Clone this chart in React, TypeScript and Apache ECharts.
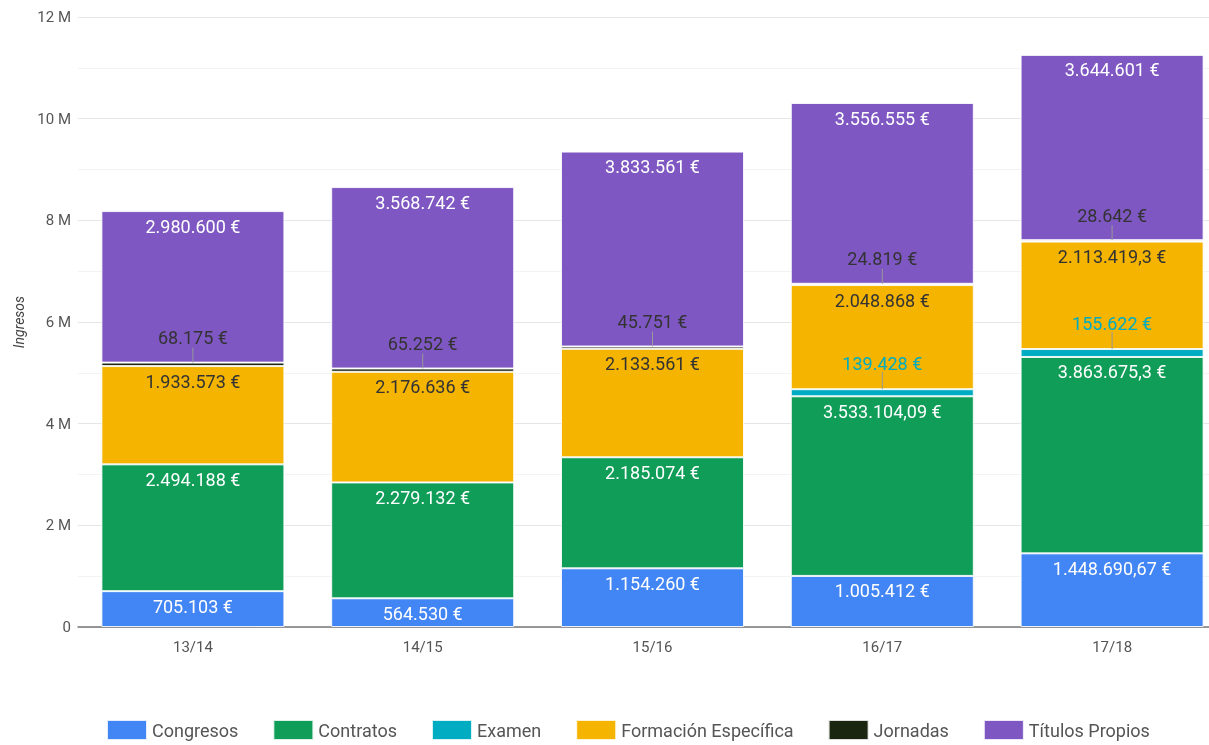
import React, { useEffect, useRef } from "react";
import * as echarts from "echarts";

const categories = ["13/14", "14/15", "15/16", "16/17", "17/18"];
const congresos = [705103, 564530, 1154260, 1005412, 1448690.67];
const contratos = [2494188, 2279132, 2185074, 3533104.09, 3863675.3];
const examen = [null, null, null, 139428, 155622];
const formacion = [1933573, 2176636, 2133561, 2048868, 2113419.3];
const jornadas = [68175, 65252, 45751, 24819, 28642];
const titulos = [2980600, 3568742, 3833561, 3556555, 3644601];

const seriesNames = ["Congresos", "Contratos", "Examen", "Formación Específica", "Jornadas", "Títulos Propios"];
const colors = ["#4285F4", "#0F9D58", "#00ACC1", "#F4B400", "#1B2610", "#7E57C2"];

const FONT = "Roboto";

function fmt(v: number | null): string {
  if (v === null || v === undefined || v === 0) return "";
  const s = String(v);
  const [ip, dp] = s.split(".");
  const grouped = ip.replace(/\B(?=(\d{3})+(?!\d))/g, ".");
  return (dp ? grouped + "," + dp : grouped) + " €";
}

export default function App() {
  const ref = useRef<HTMLDivElement>(null);
  useEffect(() => {
    if (!ref.current) return;
    const chart = echarts.init(ref.current, undefined, { renderer: "svg" });
    const all = [congresos, contratos, examen, formacion, jornadas, titulos];
    const topOf = (k: number, i: number) => {
      let s = 0;
      for (let j = 0; j <= k; j++) s += (all[j][i] as number) || 0;
      return s;
    };
    const leaderData: number[][] = [];
    categories.forEach((_, i) => {
      leaderData.push([i, topOf(4, i), 15]);
      if (examen[i]) leaderData.push([i, topOf(2, i), 17]);
    });

    const labelStyle = (color: string, pos: string, dist: number) => ({
      show: true,
      position: pos,
      distance: dist,
      color,
      fontFamily: FONT,
      fontSize: 18,
      formatter: (p: any) => fmt(p.value),
    });

    const mk = (k: number, label: any, z = 2) => ({
      name: seriesNames[k],
      type: "bar",
      stack: "total",
      barWidth: 183,
      z,
      data: all[k],
      itemStyle: { color: colors[k], borderColor: "rgba(255,255,255,0.85)", borderWidth: 1 },
      label,
      emphasis: { disabled: true },
    });

    chart.setOption({
      animation: false,
      color: colors,
      textStyle: { fontFamily: FONT },
      grid: { left: 78, width: 1149, top: 17, bottom: 118, containLabel: false },
      legend: {
        data: seriesNames,
        left: 101,
        top: 714,
        itemWidth: 40,
        itemHeight: 20,
        itemGap: 34,
        icon: "rect",
        textStyle: { fontFamily: FONT, fontSize: 18, color: "#555" },
      },
      xAxis: {
        type: "category",
        data: categories,
        axisTick: { show: false },
        axisLine: { lineStyle: { color: "#777", width: 1.5 } },
        axisLabel: { color: "#555", fontSize: 15, fontFamily: FONT, margin: 12 },
      },
      yAxis: {
        type: "value",
        min: 0,
        max: 12000000,
        interval: 2000000,
        name: "Ingresos",
        nameLocation: "middle",
        nameRotate: 90,
        nameGap: 52,
        nameTextStyle: { fontStyle: "italic", color: "#444", fontSize: 14, fontFamily: FONT },
        axisLine: { show: false },
        axisTick: { show: false },
        axisLabel: {
          color: "#555",
          fontSize: 15,
          fontFamily: FONT,
          margin: 7,
          formatter: (v: number) => (v === 0 ? "0" : v / 1000000 + " M"),
        },
        splitLine: { lineStyle: { color: "#e6e6e6" } },
        minorTick: { show: false, splitNumber: 2 },
        minorSplitLine: { show: true, lineStyle: { color: "#f3f3f3" } },
      },
      series: [
        mk(0, labelStyle("#fff", "insideTop", 6)),
        mk(1, labelStyle("#fff", "insideTop", 6)),
        mk(2, labelStyle("#00ACC1", "top", 17), 4),
        mk(3, labelStyle("#333", "insideTop", 6)),
        mk(4, labelStyle("#333", "top", 16), 4),
        mk(5, labelStyle("#fff", "insideTop", 6)),
        {
          type: "custom",
          name: "leader",
          z: 5,
          silent: true,
          data: leaderData,
          renderItem: (params: any, api: any) => {
            const p = api.coord([api.value(0), api.value(1)]);
            const len = api.value(2);
            return {
              type: "line",
              shape: { x1: p[0], y1: p[1], x2: p[0], y2: p[1] - len },
              style: { stroke: "#999", lineWidth: 1 },
            };
          },
        },
      ],
    });
    return () => chart.dispose();
  }, []);
  return (
    <div style={{ position: "fixed", left: 0, top: 0, width: 1209, height: 745, overflow: "hidden" }}>
      <div ref={ref} style={{ position: "absolute", left: 0, top: 0, width: 1240, height: 745 }} />
    </div>
  );
}
